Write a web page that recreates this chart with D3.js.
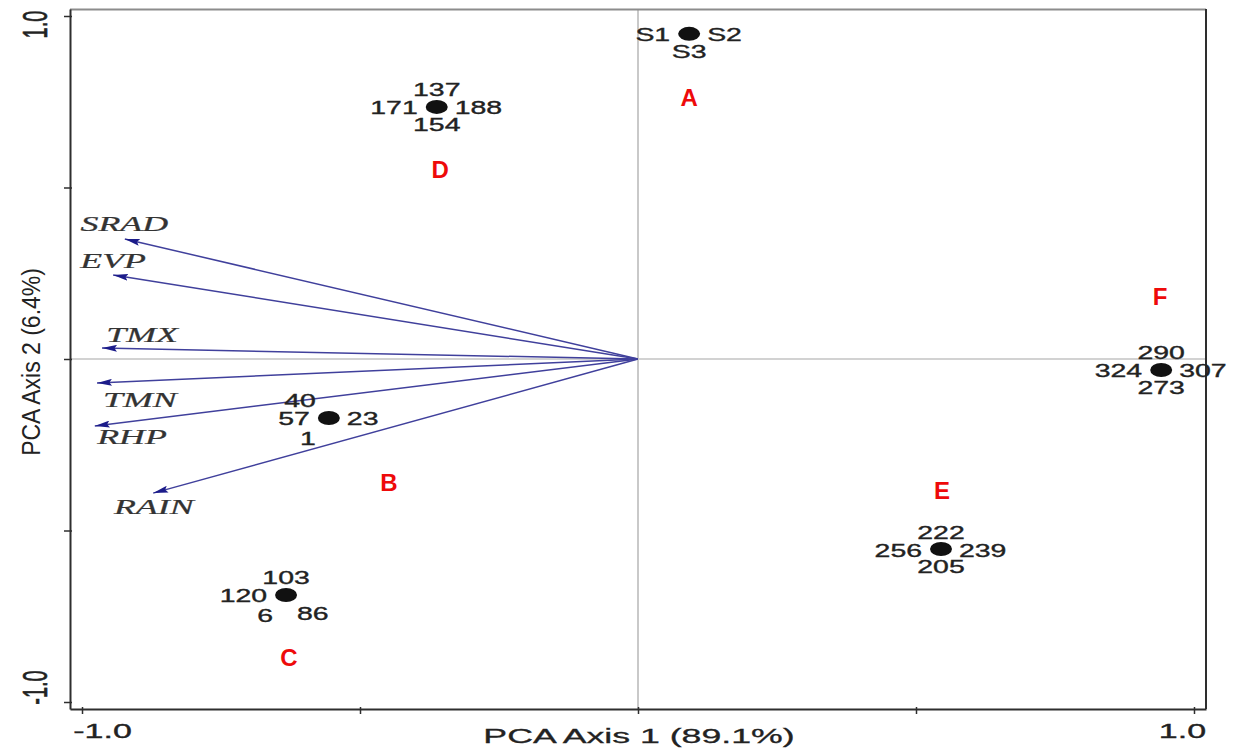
<!DOCTYPE html>
<html><head><meta charset="utf-8">
<script src="https://cdn.jsdelivr.net/npm/d3@7"></script>
<style>
html,body{margin:0;padding:0;background:#fff;}
svg{display:block;}
</style></head><body>
<svg id="chart" width="1239" height="749"></svg>
<script>
// Group centroids on the first two PCA axes
const pointX = [0.092, -0.362, -0.556, -0.633, 0.545, 0.941];
const pointY = [0.948, 0.735, -0.172, -0.688, -0.554, -0.032];
// Members of each group, written around its marker
const pointLabels = [
  ["S1", "S2", "S3"],
  ["137", "171", "188", "154"],
  ["40", "57", "23", "1"],
  ["103", "120", "6", "86"],
  ["222", "256", "239", "205"],
  ["290", "324", "307", "273"]
];
const pointLabelSides = [
  ["w", "e", "s"],
  ["n", "w", "e", "s"],
  ["nw", "w", "e", "sw"],
  ["n", "w", "sw", "se"],
  ["n", "w", "e", "s"],
  ["n", "w", "e", "s"]
];
// Group letters
const groupNames = ["A", "D", "B", "C", "E", "F"];
const groupX = [0.092, -0.356, -0.448, -0.628, 0.547, 0.939];
const groupY = [0.764, 0.554, -0.359, -0.869, -0.382, 0.184];
// Climate variable loadings (arrows)
const varNames = ["SRAD", "EVP", "TMX", "TMN", "RHP", "RAIN"];
const varX = [-0.923, -0.944, -0.964, -0.973, -0.977, -0.872];
const varY = [0.350, 0.245, 0.032, -0.070, -0.195, -0.391];
const varLabelX = [-0.924, -0.944, -0.892, -0.896, -0.910, -0.871];
const varLabelY = [0.394, 0.286, 0.070, -0.120, -0.227, -0.431];
// Axes
const tickValues = [-1, -0.5, 0, 0.5, 1];
const tickLabels = { "-1": "-1.0", "1": "1.0" };
const xTitle = "PCA Axis 1 (89.1%)";
const yTitle = "PCA Axis 2 (6.4%)";

const svg = d3.select("#chart");
const SANS = "'Liberation Sans', Arial, sans-serif";
const SERIF = "'Liberation Serif', 'Times New Roman', serif";

const x = d3.scaleLinear().domain([-1.0216, 1.0216]).range([70, 1206]);
const y = d3.scaleLinear().domain([-1.0204, 1.0204]).range([709, 9]);
const [x0, x1] = x.range();
const [y1, y0] = y.range();

// zero reference lines
svg.append("line").attr("x1", x(0)).attr("x2", x(0)).attr("y1", y0).attr("y2", y1)
  .attr("stroke", "#c9c9c9").attr("stroke-width", 2);
svg.append("line").attr("x1", x0).attr("x2", x1).attr("y1", y(0)).attr("y2", y(0))
  .attr("stroke", "#d2d2d2").attr("stroke-width", 2);

// frame: top and right edges
svg.append("line").attr("x1", x0).attr("x2", x1).attr("y1", y0 + 0.5).attr("y2", y0 + 0.5)
  .attr("stroke", "#8c8c8c").attr("stroke-width", 2);
svg.append("line").attr("x1", x1).attr("x2", x1).attr("y1", y0).attr("y2", y1)
  .attr("stroke", "#2e2e2e").attr("stroke-width", 2);

// bottom axis
const xAxis = d3.axisBottom(x).tickValues(tickValues).tickSize(5).tickSizeOuter(0)
  .tickFormat(d => tickLabels[d] || "");
const gx = svg.append("g").attr("transform", `translate(0,${y1})`).call(xAxis);
gx.select(".domain").attr("stroke", "#2e2e2e").attr("stroke-width", 2);
gx.selectAll(".tick line").attr("stroke", "#2e2e2e").attr("stroke-width", 1.5).attr("y1", -2);
const xShift = { "-1": 20, "1": -12 };
gx.selectAll(".tick text")
  .attr("y", null).attr("dy", null)
  .attr("font-family", SANS).attr("font-size", 20).attr("fill", "#222")
  .attr("stroke", "#222").attr("stroke-width", 0.35)
  .attr("text-anchor", "middle")
  .attr("transform", d => `translate(${xShift[d] || 0},29) scale(1.7,1)`);

// left axis
const yAxis = d3.axisLeft(y).tickValues(tickValues).tickSize(6).tickSizeOuter(0)
  .tickFormat(d => tickLabels[d] || "");
const gy = svg.append("g").attr("transform", `translate(${x0},0)`).call(yAxis);
gy.select(".domain").attr("stroke", "#2e2e2e").attr("stroke-width", 2);
gy.selectAll(".tick line").attr("stroke", "#2e2e2e").attr("stroke-width", 1.5).attr("x1", 2);
const yShift = { "-1": -15, "1": 8 };
gy.selectAll(".tick text")
  .attr("x", null).attr("dy", null)
  .attr("font-family", SANS).attr("font-size", 20).attr("fill", "#222")
  .attr("stroke", "#222").attr("stroke-width", 0.35)
  .attr("text-anchor", "middle")
  .attr("transform", d => `translate(-23,${yShift[d] || 0}) scale(1.75,1) rotate(-90)`);

// axis titles
svg.append("text").text(xTitle)
  .attr("font-family", SANS).attr("font-size", 21).attr("fill", "#222")
  .attr("stroke", "#222").attr("stroke-width", 0.3)
  .attr("text-anchor", "middle")
  .attr("transform", `translate(${x(0) + 1},743) scale(1.7,1)`);
svg.append("text").text(yTitle)
  .attr("font-family", SANS).attr("font-size", 23).attr("fill", "#222")
  .attr("text-anchor", "middle")
  .attr("transform", `translate(40,${y(0) + 3}) scale(1.1,1) rotate(-90)`);

// arrowhead
svg.append("defs").append("marker")
  .attr("id", "head").attr("viewBox", "0 0 15 7")
  .attr("refX", 15).attr("refY", 3.5)
  .attr("markerWidth", 15).attr("markerHeight", 7)
  .attr("markerUnits", "userSpaceOnUse").attr("orient", "auto")
  .append("path").attr("d", "M0,0L15,3.5L0,7L2.5,3.5Z").attr("fill", "#1c1c8a");

// loading arrows
const vars = varNames.map((n, i) => ({ n, vx: varX[i], vy: varY[i], lx: varLabelX[i], ly: varLabelY[i] }));
svg.append("g").selectAll("line").data(vars).join("line")
  .attr("x1", x(0)).attr("y1", y(0))
  .attr("x2", d => x(d.vx)).attr("y2", d => y(d.vy))
  .attr("stroke", "#40409c").attr("stroke-width", 1.5)
  .attr("marker-end", "url(#head)");
svg.append("g").selectAll("text").data(vars).join("text")
  .text(d => d.n)
  .attr("font-family", SERIF).attr("font-style", "italic").attr("font-size", 22)
  .attr("fill", "#333").attr("stroke", "#333").attr("stroke-width", 0.25)
  .attr("text-anchor", "middle").attr("dy", "0.33em")
  .attr("transform", d => `translate(${x(d.lx)},${y(d.ly)}) scale(1.63,1)`);

// group markers
const pts = pointX.map((px, i) => ({ px, py: pointY[i], labels: pointLabels[i], sides: pointLabelSides[i] }));
svg.append("g").selectAll("ellipse").data(pts).join("ellipse")
  .attr("cx", d => x(d.px)).attr("cy", d => y(d.py))
  .attr("rx", 11).attr("ry", 7).attr("fill", "#111");

// member labels placed around each marker
const side = {
  w:  { dx: -19, dy: 7.5,  a: "end" },
  e:  { dx: 18,  dy: 7.5,  a: "start" },
  n:  { dx: 0,   dy: -10.5, a: "middle" },
  s:  { dx: 0,   dy: 24,   a: "middle" },
  nw: { dx: -13, dy: -11,  a: "end" },
  sw: { dx: -13, dy: 27,   a: "end" },
  se: { dx: 11,  dy: 25,   a: "start" }
};
const memberLabels = pts.flatMap(p => p.labels.map((t, j) => ({ t, cx: x(p.px), cy: y(p.py), s: side[p.sides[j]] })));
svg.append("g").selectAll("text").data(memberLabels).join("text")
  .text(d => d.t)
  .attr("font-family", SANS).attr("font-size", 18).attr("fill", "#222")
  .attr("stroke", "#222").attr("stroke-width", 0.35)
  .attr("text-anchor", d => d.s.a)
  .attr("transform", d => `translate(${d.cx + d.s.dx},${d.cy + d.s.dy}) scale(1.58,1)`);

// group letters
svg.append("g").selectAll("text").data(groupNames.map((g, i) => ({ g, gx: groupX[i], gy: groupY[i] }))).join("text")
  .text(d => d.g)
  .attr("x", d => x(d.gx)).attr("y", d => y(d.gy))
  .attr("dy", "0.36em").attr("text-anchor", "middle")
  .attr("font-family", SANS).attr("font-weight", "bold").attr("font-size", 24)
  .attr("fill", "#ee0a0a");
</script>
</body></html>
